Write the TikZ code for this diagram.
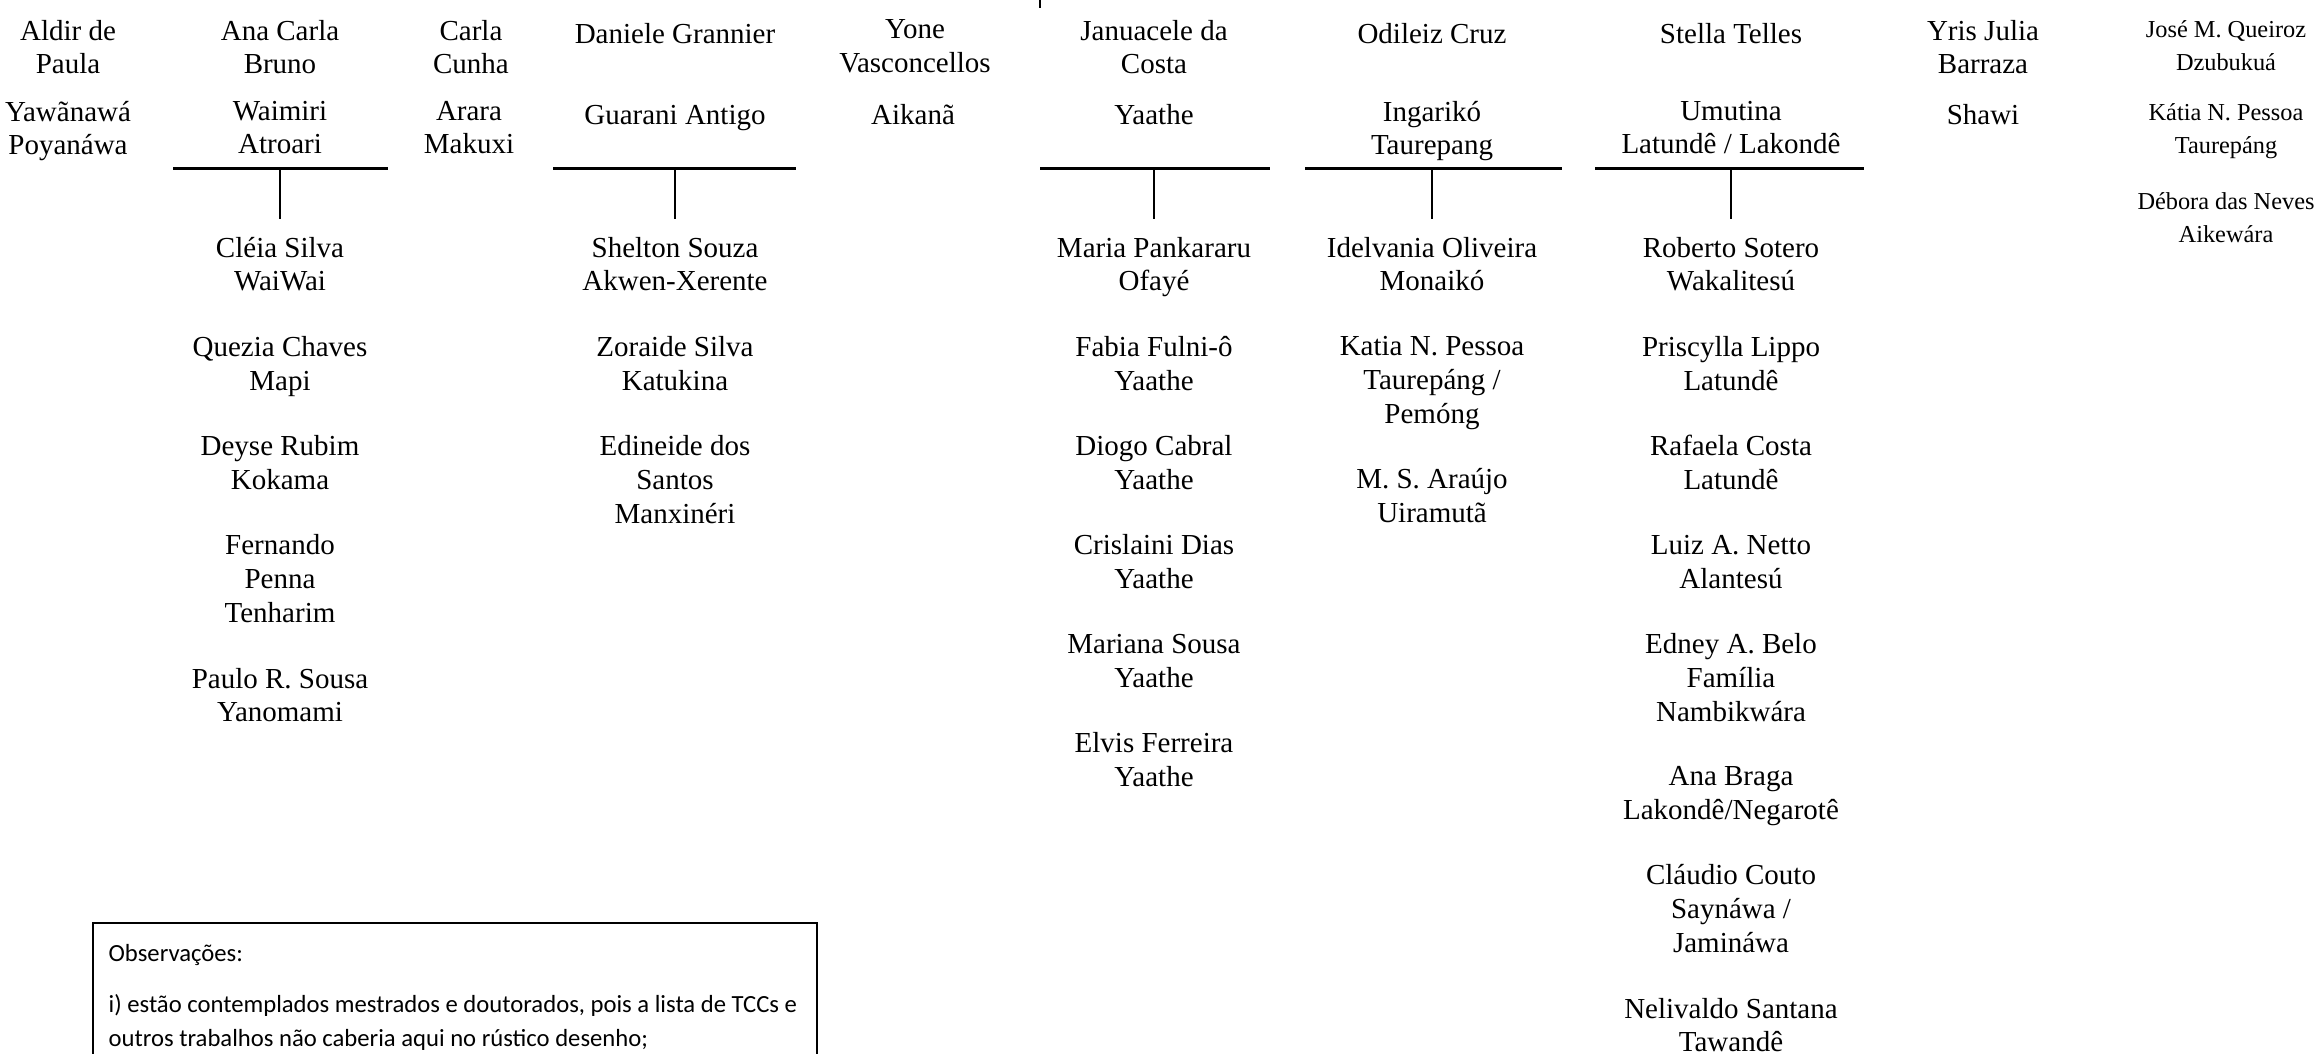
\documentclass[tikz,border=0pt]{standalone}
\usepackage{fontspec}
\setmainfont{Liberation Serif}
\newfontfamily\notefont{Carlito}
\usetikzlibrary{positioning}
\tikzstyle{every picture}=[x=0.3pt, y=-0.3pt, node distance=10.15pt]
\tikzset{
	person/.style={align=center, inner sep=0pt, anchor=north,
		font=\fontsize{8.7}{10.15}\selectfont,
		execute at begin node=\strut, execute at end node=\strut},
	guest/.style={person, font=\fontsize{7.3}{10}\selectfont},
	bar/.style={line width=0.9pt},
	stem/.style={line width=0.6pt, shorten >=5.2pt},
	notebox/.style={line width=0.6pt},
	note/.style={inner sep=0pt, anchor=north west, align=left,
		font=\notefont\fontsize{7.4}{10.2}\selectfont,
		execute at begin node=\strut},
}

\begin{document}
\begin{tikzpicture}
	\useasboundingbox (0,0) rectangle (2320,1054);
	\clip (0,0) rectangle (2320,1054);
	% supervisors
	\node[person] (aldir) at (68,19.3) {Aldir de\\Paula};
	\node[person] (anacarla) at (280,19.3) {Ana Carla\\Bruno};
	\node[person] (carla) at (471,19.3) {Carla\\Cunha};
	\node[person] (daniele) at (675,19.3) {Daniele Grannier};
	\node[person] (yone) at (915,19.3) {Yone\\Vasconcellos};
	\node[person] (januacele) at (1154,19.3) {Januacele da\\Costa};
	\node[person] (odileiz) at (1432,19.3) {Odileiz Cruz};
	\node[person] (stella) at (1731,19.3) {Stella Telles};
	\node[person] (yris) at (1983,19.3) {Yris Julia\\Barraza};
	% languages
	\node[person] (yawanawa) at (68,100.3) {Yawãnawá\\Poyanáwa};
	\node[person] (waimiri) at (280,100.3) {Waimiri\\Atroari};
	\node[person] (arara) at (469,100.3) {Arara\\Makuxi};
	\node[person] (guarani) at (675,100.3) {Guarani Antigo};
	\node[person] (aikana) at (913,100.3) {Aikanã};
	\node[person] (yaathe) at (1154,100.3) {Yaathe};
	\node[person] (ingariko) at (1432,100.3) {Ingarikó\\Taurepang};
	\node[person] (umutina) at (1731,100.3) {Umutina\\Latundê / Lakondê};
	\node[person] (shawi) at (1983,100.3) {Shawi};
	% right column
	\node[guest] (jose) at (2226,19.7) {José M. Queiroz\\Dzubukuá};
	\node[guest] (katiaP) at (2226,102.7) {Kátia N. Pessoa\\Taurepáng};
	\node[guest] (debora) at (2226,191.7) {Débora das Neves\\Aikewára};

	% bars
	\coordinate (anaBarL) at (173,169);
	\coordinate (anaBar) at (280,169);
	\coordinate (anaBarR) at (388,169);
	\coordinate (danBarL) at (553,169);
	\coordinate (danBar) at (675,169);
	\coordinate (danBarR) at (796,169);
	\coordinate (janBarL) at (1040,169);
	\coordinate (janBar) at (1154,169);
	\coordinate (janBarR) at (1270,169);
	\coordinate (odiBarL) at (1305,169);
	\coordinate (odiBar) at (1432,169);
	\coordinate (odiBarR) at (1562,169);
	\coordinate (stelBarL) at (1595,169);
	\coordinate (stelBar) at (1731,169);
	\coordinate (stelBarR) at (1864,169);
	\draw[bar] (anaBarL) -- (anaBarR);
	\draw[bar] (danBarL) -- (danBarR);
	\draw[bar] (janBarL) -- (janBarR);
	\draw[bar] (odiBarL) -- (odiBarR);
	\draw[bar] (stelBarL) -- (stelBarR);

	% students of Ana Carla Bruno
	\node[person] (cleia) at (280,236.3) {Cléia Silva\\WaiWai};
	\node[person, below=of cleia] (quezia) {Quezia Chaves\\Mapi};
	\node[person, below=of quezia] (deyse) {Deyse Rubim\\Kokama};
	\node[person, below=of deyse] (fernando) {Fernando\\Penna\\Tenharim};
	\node[person, below=of fernando] (paulo) {Paulo R. Sousa\\Yanomami};
	% students of Daniele Grannier
	\node[person] (shelton) at (675,236.3) {Shelton Souza\\Akwen-Xerente};
	\node[person, below=of shelton] (zoraide) {Zoraide Silva\\Katukina};
	\node[person, below=of zoraide] (edineide) {Edineide dos\\Santos\\Manxinéri};
	% students of Januacele da Costa
	\node[person] (mariaP) at (1154,236.3) {Maria Pankararu\\Ofayé};
	\node[person, below=of mariaP] (fabia) {Fabia Fulni-ô\\Yaathe};
	\node[person, below=of fabia] (diogo) {Diogo Cabral\\Yaathe};
	\node[person, below=of diogo] (crislaini) {Crislaini Dias\\Yaathe};
	\node[person, below=of crislaini] (mariana) {Mariana Sousa\\Yaathe};
	\node[person, below=of mariana] (elvis) {Elvis Ferreira\\Yaathe};
	% students of Odileiz Cruz
	\node[person] (idelvania) at (1432,236.3) {Idelvania Oliveira\\Monaikó};
	\node[person, below=of idelvania] (katia) {Katia N. Pessoa\\Taurepáng /\\Pemóng};
	\node[person, below=of katia] (araujo) {M. S. Araújo\\Uiramutã};
	% students of Stella Telles
	\node[person] (roberto) at (1731,236.3) {Roberto Sotero\\Wakalitesú};
	\node[person, below=of roberto] (priscylla) {Priscylla Lippo\\Latundê};
	\node[person, below=of priscylla] (rafaela) {Rafaela Costa\\Latundê};
	\node[person, below=of rafaela] (luiz) {Luiz A. Netto\\Alantesú};
	\node[person, below=of luiz] (edney) {Edney A. Belo\\Família\\Nambikwára};
	\node[person, below=of edney] (anabraga) {Ana Braga\\Lakondê/Negarotê};
	\node[person, below=of anabraga] (claudio) {Cláudio Couto\\Saynáwa /\\Jamináwa};
	\node[person, below=of claudio] (nelivaldo) {Nelivaldo Santana\\Tawandê};

	% stems
	\draw[stem] (anaBar) -- (cleia.north);
	\draw[stem] (danBar) -- (shelton.north);
	\draw[stem] (janBar) -- (mariaP.north);
	\draw[stem] (odiBar) -- (idelvania.north);
	\draw[stem] (stelBar) -- (roberto.north);
	\coordinate (stubTop) at (1040,0);
	\coordinate (stubEnd) at (1040,8);
	\draw[line width=0.6pt] (stubTop) -- (stubEnd);

	% notes
	\draw[notebox] (93,923) rectangle (817,1100);
	\node[note] (obsTitle) at (108,937) {Observações:};
	\node[note] (obsOne) at (108,994) {i) estão contemplados mestrados e doutorados, pois a lista de TCCs e\\outros trabalhos não caberia aqui no rústico desenho;};
\end{tikzpicture}
\end{document}
